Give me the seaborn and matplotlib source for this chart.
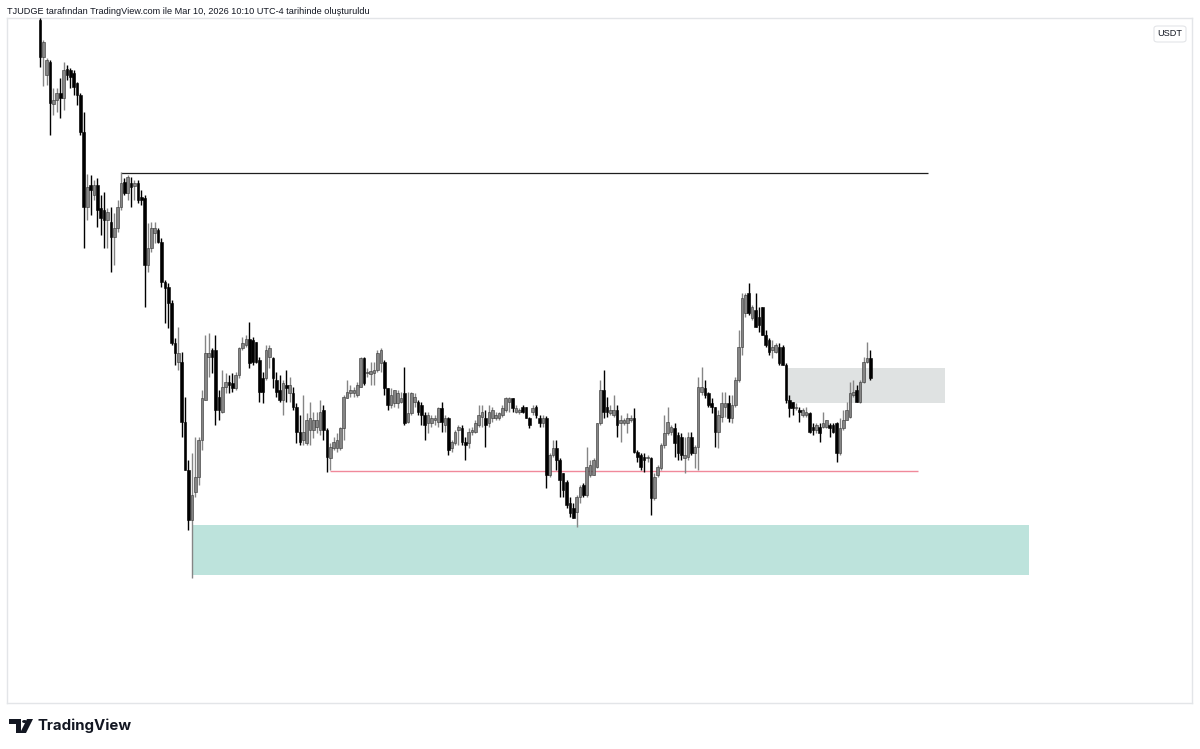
import numpy as np
import seaborn as sns
import matplotlib.pyplot as plt
from matplotlib.patches import Rectangle, FancyBboxPatch, Polygon, Circle

# candle data (price units are arbitrary, no price axis shown)
opens = [730, 693, 675, 688, 646, 650, 657, 652, 681, 680, 677, 667, 655, 618, 543, 565, 555, 565, 542, 540,
         530, 528, 513, 522, 543, 568, 557, 567, 564, 567, 553, 552, 485, 502, 517, 520, 508, 468, 463, 447,
         407, 388, 388, 328, 280, 230, 258, 273, 310, 350, 393, 400, 400, 353, 338, 363, 368, 367, 362, 375,
         402, 405, 411, 410, 408, 390, 372, 372, 393, 392, 370, 360, 350, 365, 357, 357, 343, 318, 310, 307,
         320, 320, 323, 320, 340, 320, 292, 302, 302, 302, 322, 352, 357, 357, 355, 363, 392, 377, 376, 377,
         380, 387, 388, 362, 345, 347, 347, 348, 357, 328, 337, 348, 348, 345, 335, 327, 327, 330, 328, 342,
         325, 332, 302, 307, 320, 322, 308, 307, 318, 318, 325, 333, 332, 327, 332, 332, 332, 335, 340, 348,
         352, 338, 338, 343, 343, 332, 338, 343, 332, 327, 332, 275, 295, 302, 290, 277, 268, 247, 242, 238,
         253, 265, 255, 275, 275, 283, 327, 360, 343, 337, 335, 340, 327, 327, 327, 330, 332, 298, 295, 293,
         292, 292, 252, 275, 282, 305, 317, 318, 322, 315, 313, 292, 293, 313, 297, 303, 358, 362, 357, 347,
         343, 318, 333, 343, 347, 332, 345, 370, 403, 437, 457, 432, 440, 433, 443, 415, 410, 400, 398, 403,
         403, 385, 350, 348, 342, 340, 335, 335, 337, 323, 320, 323, 323, 323, 325, 325, 327, 297, 322, 330,
         333, 355, 360, 348, 368, 388, 392]
highs = [732, 710, 692, 690, 662, 662, 672, 688, 685, 682, 680, 668, 657, 638, 576, 575, 570, 572, 555, 558,
         542, 543, 537, 550, 578, 572, 575, 573, 570, 570, 560, 555, 527, 528, 528, 522, 512, 470, 467, 450,
         412, 423, 398, 353, 290, 297, 313, 313, 360, 415, 417, 402, 415, 360, 380, 377, 375, 377, 378, 403,
         413, 415, 428, 413, 408, 393, 378, 405, 405, 393, 378, 375, 370, 380, 373, 363, 347, 335, 355, 337,
         348, 338, 338, 350, 345, 322, 307, 313, 317, 323, 355, 370, 365, 363, 368, 393, 393, 382, 388, 388,
         400, 402, 390, 362, 362, 360, 360, 358, 383, 358, 358, 357, 350, 348, 338, 338, 335, 335, 343, 348,
         335, 333, 310, 320, 325, 325, 313, 322, 323, 330, 345, 345, 340, 345, 343, 338, 338, 345, 353, 353,
         352, 345, 342, 345, 343, 333, 345, 345, 335, 335, 334, 297, 310, 310, 292, 277, 270, 253, 247, 255,
         265, 267, 303, 290, 292, 327, 370, 380, 353, 345, 355, 345, 335, 332, 337, 335, 342, 300, 297, 297,
         295, 293, 277, 285, 307, 335, 343, 325, 327, 318, 317, 313, 318, 318, 305, 373, 383, 370, 358, 352,
         343, 340, 358, 358, 355, 355, 373, 420, 457, 457, 467, 445, 457, 443, 443, 420, 412, 410, 407, 407,
         405, 387, 355, 348, 347, 343, 342, 343, 338, 327, 327, 327, 338, 330, 327, 327, 328, 332, 340, 348,
         368, 370, 365, 370, 393, 408, 400]
lows = [683, 664, 665, 615, 635, 638, 632, 640, 670, 662, 655, 645, 615, 502, 530, 535, 550, 523, 515, 502,
        502, 478, 485, 518, 540, 555, 550, 543, 550, 547, 545, 443, 478, 498, 507, 507, 463, 427, 422, 405,
        385, 380, 313, 280, 220, 172, 253, 265, 300, 350, 373, 377, 325, 330, 337, 357, 357, 358, 360, 372,
        400, 403, 382, 385, 387, 348, 347, 370, 382, 362, 353, 348, 335, 348, 348, 340, 307, 305, 305, 305,
        305, 312, 317, 315, 310, 278, 280, 300, 298, 300, 310, 352, 353, 353, 353, 363, 365, 373, 365, 365,
        378, 378, 355, 340, 342, 343, 342, 347, 325, 327, 335, 343, 335, 325, 310, 317, 323, 325, 323, 318,
        318, 295, 298, 305, 305, 305, 290, 302, 315, 317, 323, 323, 303, 323, 328, 330, 330, 333, 338, 338,
        338, 337, 336, 337, 332, 322, 335, 332, 323, 323, 262, 273, 293, 280, 253, 253, 242, 233, 232, 223,
        247, 253, 253, 273, 275, 282, 325, 332, 333, 335, 333, 313, 308, 325, 317, 328, 297, 288, 280, 278,
        288, 235, 250, 273, 280, 302, 315, 315, 293, 290, 290, 277, 290, 295, 282, 280, 355, 352, 343, 337,
        303, 302, 328, 333, 328, 327, 343, 368, 395, 433, 435, 430, 423, 418, 415, 403, 395, 392, 397, 385,
        385, 347, 333, 335, 340, 328, 333, 333, 317, 315, 317, 308, 322, 322, 313, 317, 288, 295, 320, 330,
        332, 353, 348, 347, 367, 387, 370]
closes = [693, 708, 690, 647, 650, 657, 652, 680, 675, 673, 663, 655, 618, 543, 563, 560, 565, 540, 532, 530,
          538, 513, 522, 543, 567, 557, 573, 563, 567, 550, 550, 485, 502, 522, 522, 508, 468, 462, 447, 407,
          397, 397, 328, 280, 230, 255, 273, 310, 352, 397, 397, 393, 340, 340, 363, 368, 365, 362, 375, 402,
          407, 411, 387, 388, 388, 358, 358, 400, 402, 372, 358, 350, 367, 362, 365, 343, 318, 308, 318, 330,
          332, 330, 330, 338, 320, 293, 303, 308, 310, 322, 353, 358, 360, 360, 365, 392, 367, 378, 379, 380,
          397, 400, 362, 345, 355, 360, 357, 352, 327, 337, 357, 353, 338, 335, 325, 335, 332, 332, 342, 328,
          332, 300, 308, 318, 323, 308, 305, 318, 320, 327, 335, 338, 325, 338, 340, 335, 337, 342, 352, 352,
          342, 342, 340, 338, 332, 325, 342, 335, 327, 332, 275, 295, 302, 290, 270, 260, 245, 237, 232, 253,
          263, 255, 283, 285, 290, 327, 360, 338, 338, 340, 340, 325, 330, 330, 332, 332, 298, 293, 283, 290,
          293, 252, 273, 283, 305, 317, 328, 323, 307, 297, 295, 295, 313, 297, 303, 363, 363, 355, 345, 343,
          318, 335, 347, 347, 332, 345, 370, 403, 452, 455, 437, 443, 423, 425, 415, 405, 398, 403, 405, 387,
          385, 350, 342, 342, 343, 338, 340, 338, 318, 320, 325, 317, 327, 330, 322, 318, 297, 322, 330, 340,
          357, 358, 348, 368, 388, 392, 372]

# drawn levels / zones: (start bar, end bar, price)
high_line = (24, 263, 577)
low_line = (86, 260, 279)
demand_zone = (45, 293, 175, 225)
supply_zone = (221, 268, 347, 382)

sns.set_theme(style="white")
plt.rcParams['font.family'] = ['Liberation Sans Narrow', 'Liberation Sans', 'DejaVu Sans']

fig = plt.figure(figsize=(12, 7.49), dpi=100)
W, H = 1200, 749
ax = fig.add_axes([7 / W, 1 - 703 / H, 1185 / W, 685 / H])

o = np.array(opens)
h = np.array(highs)
l = np.array(lows)
c = np.array(closes)
x = np.arange(len(o))
up = c >= o

up_col = "#858585"
down_col = "#000000"

# zones first so candles sit on top
dz0, dz1, dzlo, dzhi = demand_zone
ax.add_patch(Rectangle((dz0, dzlo), dz1 - dz0, dzhi - dzlo, facecolor="#bde3dc", edgecolor="none", zorder=1))
sz0, sz1, szlo, szhi = supply_zone
ax.add_patch(Rectangle((sz0, szlo), sz1 - sz0, szhi - szlo, facecolor="#dfe2e2", edgecolor="none", zorder=1))

ax.hlines(high_line[2], high_line[0], high_line[1], color="#1e1e1e", lw=0.9, zorder=2)
ax.hlines(low_line[2], low_line[0], low_line[1], color="#f0899a", lw=1.0, zorder=2)

# wicks
ax.vlines(x[up], l[up], h[up], color=up_col, lw=1.0, zorder=3)
ax.vlines(x[~up], l[~up], h[~up], color=down_col, lw=1.0, zorder=3)

# bodies
body = np.where(np.abs(c - o) < 1.2, 1.2, c - o)
ax.bar(x[up], body[up], bottom=o[up], width=0.8, color=up_col, edgecolor="#333333", linewidth=0.4, zorder=4)
ax.bar(x[~up], body[~up], bottom=o[~up], width=0.8, color=down_col, edgecolor=down_col, linewidth=0.4, zorder=4)

px = (870 - 39) / (len(o) - 1)
ax.set_xlim(-(40 - 7) / px, (1193 - 40) / px)
ax.set_ylim(750 - 703, 750 - 18)
ax.set_xticks([])
ax.set_yticks([])
for s in ax.spines.values():
    s.set_color("#e3e5e8")
    s.set_linewidth(1.0)

# header text
fig.text(7 / W, 1 - 11 / H, "TJUDGE tarafından TradingView.com ile Mar 10, 2026 10:10 UTC-4 tarihinde oluşturuldu",
         fontsize=6.6, color="#131722", va="center", ha="left")

# currency label box
fig.patches.append(FancyBboxPatch((1154 / W, 1 - 42 / H), 32 / W, 16 / H,
                                  boxstyle="round,pad=0,rounding_size=0.003",
                                  transform=fig.transFigure, facecolor="white",
                                  edgecolor="#e3e5e8", linewidth=0.8))
fig.text(1170 / W, 1 - 34 / H, "USDT", fontsize=6.6, color="#131722", ha="center", va="center")

# TradingView logo
def fpt(px_x, px_y):
    return (px_x / W, 1 - px_y / H)

fig.patches.append(Polygon([fpt(9, 719), fpt(21, 719), fpt(21, 733), fpt(16, 733), fpt(16, 724), fpt(9, 724)],
                           closed=True, transform=fig.transFigure, facecolor="#131722", edgecolor="none"))
fig.patches.append(Circle(fpt(24.5, 721.5), 2.4 / W, transform=fig.transFigure, facecolor="#131722", edgecolor="none"))
fig.patches.append(Polygon([fpt(27, 719), fpt(33, 719), fpt(26, 733), fpt(20, 733)],
                           closed=True, transform=fig.transFigure, facecolor="#131722", edgecolor="none"))
fig.text(37 / W, 1 - 726 / H, "TradingView", fontsize=10.8, fontweight="bold", color="#131722",
         ha="left", va="center", family=["Inter", "DejaVu Sans"])

fig.savefig("out.png", dpi=100)
